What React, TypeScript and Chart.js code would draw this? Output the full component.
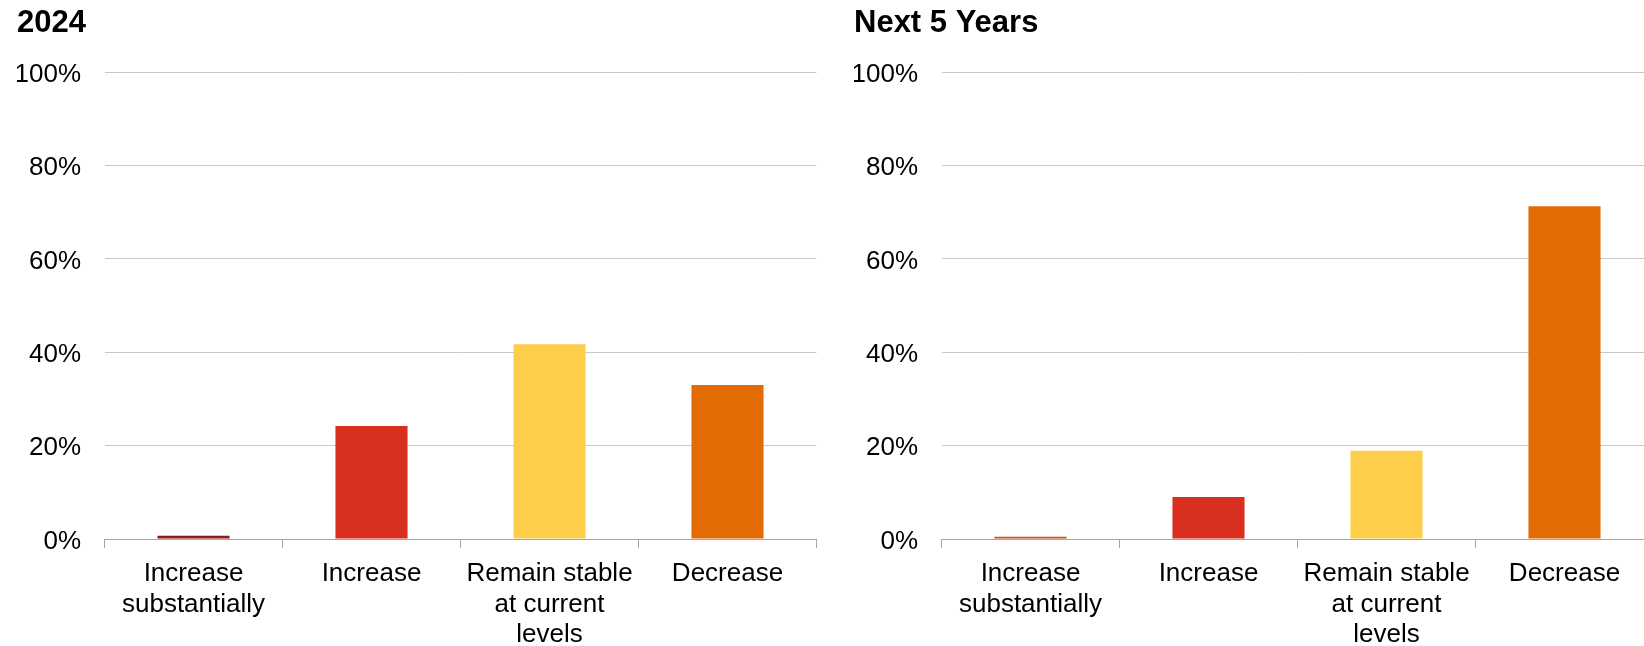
import React, { useEffect, useRef } from "react";
import { Chart, registerables } from "chart.js";

Chart.register(...registerables);

const categories: string[][] = [
  ["Increase", "substantially"],
  ["Increase"],
  ["Remain stable", "at current", "levels"],
  ["Decrease"],
];
const titles2024 = "2024";
const titleNext = "Next 5 Years";
const values2024 = [0.7, 24.2, 41.7, 33.0];
const valuesNext = [0.5, 9.0, 18.9, 71.3];
const colors2024 = ["#8b1c1e", "#d82f1f", "#fecd4a", "#e36b03"];
const colorsNext = ["#d4500e", "#d82f1f", "#fecd4a", "#e36b03"];
const yTicks = [0, 20, 40, 60, 80, 100];

const FONT = "'Liberation Sans', Arial, Helvetica, sans-serif";

function BarPanel(props: { title: string; values: number[]; colors: string[]; left: number }) {
  const ref = useRef<HTMLCanvasElement>(null);
  useEffect(() => {
    if (!ref.current) return;
    const chart = new Chart(ref.current, {
      type: "bar",
      data: {
        labels: categories,
        datasets: [
          {
            data: props.values,
            backgroundColor: props.colors,
            borderWidth: 0,
            barPercentage: 0.405,
            categoryPercentage: 1,
          },
        ],
      },
      options: {
        responsive: false,
        animation: false,
        layout: { padding: { left: 17, right: 20.5, top: 0, bottom: 0 } },
        plugins: {
          legend: { display: false },
          tooltip: { enabled: false },
          title: {
            display: true,
            text: props.title,
            align: "start",
            color: "#000",
            font: { family: FONT, size: 31, weight: "bold", lineHeight: 1.2 },
            padding: { top: 5, bottom: 30 },
          },
        },
        scales: {
          x: {
            offset: true,
            grid: {
              offset: true,
              drawOnChartArea: false,
              drawTicks: true,
              tickLength: 9,
              color: "#a6a6a6",
              lineWidth: 1,
            },
            border: { display: true, color: "#a6a6a6", width: 1 },
            ticks: {
              color: "#000",
              autoSkip: false,
              maxRotation: 0,
              minRotation: 0,
              padding: 11,
              font: { family: FONT, size: 26, lineHeight: 1.17 },
            },
            afterFit: (scale: any) => {
              scale.height = 107;
            },
          },
          y: {
            min: 0,
            max: 100,
            afterBuildTicks: (scale: any) => {
              scale.ticks = yTicks.map((v) => ({ value: v }));
            },
            grid: {
              drawTicks: false,
              color: (ctx: any) => (ctx.tick && ctx.tick.value === 0 ? "rgba(0,0,0,0)" : "#c8c8c8"),
              lineWidth: 1,
            },
            border: { display: false },
            ticks: {
              color: "#000",
              padding: 23.5,
              labelOffset: 2.5,
              font: { family: FONT, size: 26 },
              callback: (v: any) => v + "%",
            },
            afterFit: (scale: any) => {
              scale.width = 87.5;
            },
          },
        },
      },
    });
    return () => chart.destroy();
  }, []);
  return (
    <canvas
      ref={ref}
      width={837}
      height={646}
      style={{ position: "absolute", left: props.left, top: 0, width: 837, height: 646 }}
    />
  );
}

export default function App() {
  useEffect(() => {
    document.body.style.margin = "0";
    document.body.style.overflow = "hidden";
  }, []);
  return (
    <div style={{ position: "relative", width: 1644, height: 646, overflow: "hidden", background: "#fff" }}>
      <BarPanel title={titles2024} values={values2024} colors={colors2024} left={0} />
      <BarPanel title={titleNext} values={valuesNext} colors={colorsNext} left={837} />
    </div>
  );
}
